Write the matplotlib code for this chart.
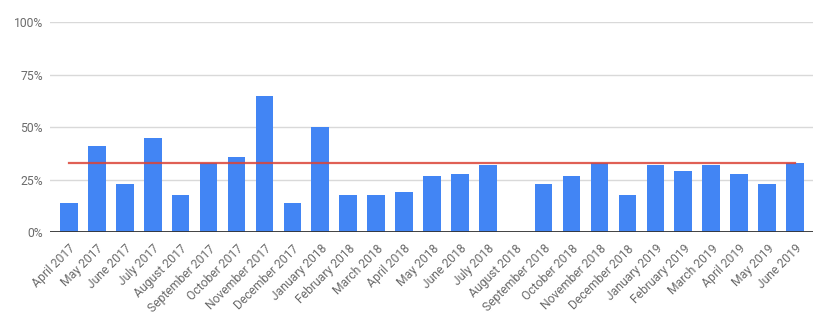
import matplotlib.pyplot as plt
from matplotlib.ticker import FuncFormatter

plt.rcParams['font.family'] = ['Roboto', 'DejaVu Sans']

# Monthly share per month, with a flat 33% target line
months = ['April 2017', 'May 2017', 'June 2017', 'July 2017', 'August 2017',
          'September 2017', 'October 2017', 'November 2017', 'December 2017',
          'January 2018', 'February 2018', 'March 2018', 'April 2018', 'May 2018',
          'June 2018', 'July 2018', 'August 2018', 'September 2018', 'October 2018',
          'November 2018', 'December 2018', 'January 2019', 'February 2019',
          'March 2019', 'April 2019', 'May 2019', 'June 2019']
share = [14, 41, 23, 45, 18, 33, 36, 65, 14, 50, 18, 18, 19, 27,
         28, 32, 0, 23, 27, 33, 18, 32, 29, 32, 28, 23, 33]
target = [33] * len(months)
y_ticks = [0, 25, 50, 75, 100]

BLUE = '#4285F4'
RED = '#DB4437'
TEXT = '#6b6b6b'

fig = plt.figure(figsize=(8.29, 3.22), dpi=100)
ax = fig.add_axes([0.0603, 0.278, 0.9204, 0.6537])

x = list(range(len(months)))
ax.bar(x, share, width=0.63, color=BLUE, zorder=2)
ax.plot(x, target, color=RED, linewidth=1.6, alpha=0.85, zorder=3)

ax.set_xlim(-0.68, len(months) - 1 + 0.645)
ax.set_ylim(0, 100)
ax.set_yticks(y_ticks)
ax.yaxis.set_major_formatter(FuncFormatter(lambda v, _: f'{v:.0f}%'))
ax.grid(axis='y', color='#d9d9d9', linewidth=1, zorder=0)
ax.axhline(0, color='#333333', linewidth=1.3, zorder=4)

ax.set_xticks(x)
ax.set_xticklabels(months, rotation=45, ha='right', rotation_mode='anchor')
ax.tick_params(axis='both', length=0, labelsize=8.7, labelcolor=TEXT)
ax.tick_params(axis='x', pad=7)
ax.tick_params(axis='y', pad=5)

for s in ax.spines.values():
    s.set_visible(False)

fig.savefig('out.png', dpi=100, facecolor='white')
